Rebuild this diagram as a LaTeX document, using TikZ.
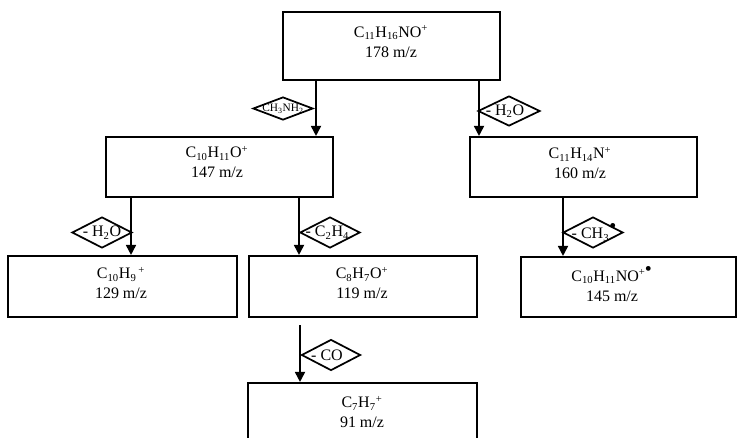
\documentclass[tikz,border=0pt]{standalone}
\usepackage{fontspec}
\setmainfont{Liberation Serif}
\usetikzlibrary{arrows.meta,shapes.geometric}
\newcommand{\bigdot}{{\fontsize{15}{15}\selectfont •}}
\begin{document}
\begin{tikzpicture}[x=0.75pt,y=-0.75pt,
  box/.style={draw, line width=1.6pt, rectangle, inner sep=0pt},
  lbl/.style={align=center, font=\fontsize{12}{15}\selectfont, inner sep=0pt},
  loss/.style={draw, diamond, line width=1.3pt, inner sep=0pt},
  losstxt/.style={font=\fontsize{12}{14}\selectfont, inner sep=0pt},
  smalltxt/.style={font=\fontsize{8.5}{10}\selectfont, inner sep=0pt},
  arr/.style={line width=1.3pt, -{Triangle[length=7.5pt,width=7.5pt]}}]
\useasboundingbox (0,0) rectangle (737,437);
\clip (0,0) rectangle (737,437);

% boxes
\node[box, minimum width=162.75pt, minimum height=51pt] (A) at (391.5,46) {};
\node[box, minimum width=170.25pt, minimum height=45pt] (B) at (219.5,167) {};
\node[box, minimum width=170.25pt, minimum height=45pt] (C) at (583.5,167) {};
\node[box, minimum width=171.75pt, minimum height=45.75pt] (D) at (122.5,286.5) {};
\node[box, minimum width=171pt, minimum height=45.75pt] (E) at (363,286.5) {};
\node[box, minimum width=161.25pt, minimum height=45pt] (F) at (628.5,287) {};
\node[box, minimum width=171.75pt, minimum height=48pt] (G) at (362.5,415) {};

% box texts
\node[lbl] (tA) at (391,41.5) {C\textsubscript{11}H\textsubscript{16}NO\textsuperscript{+}\\178 m/z};
\node[lbl] (tB) at (217,162) {C\textsubscript{10}H\textsubscript{11}O\textsuperscript{+}\\147 m/z};
\node[lbl] (tC) at (580,163) {C\textsubscript{11}H\textsubscript{14}N\textsuperscript{+}\\160 m/z};
\node[lbl] (tD) at (121,283) {C\textsubscript{10}H\textsubscript{9}\textsuperscript{\,+}\\129 m/z};
\node[lbl] (tE) at (362,283) {C\textsubscript{8}H\textsubscript{7}O\textsuperscript{+}\\119 m/z};
\node[lbl] (tF) at (612,284) {C\textsubscript{10}H\textsubscript{11}NO\textsuperscript{+\bigdot}\\145 m/z};
\node[lbl] (tG) at (362,412) {C\textsubscript{7}H\textsubscript{7}\textsuperscript{+}\\91 m/z};

% arrows
\coordinate (s6) at (300,325);
\draw[arr] (A.south -| 316,0) -- (B.north -| 316,0);
\draw[arr] (A.south -| 479,0) -- (C.north -| 479,0);
\draw[arr] (B.south -| 131,0) -- (D.north -| 131,0);
\draw[arr] (B.south -| 299,0) -- (E.north -| 299,0);
\draw[arr] (C.south -| 563,0) -- (F.north -| 563,0);
\draw[arr] (s6) -- (G.north -| s6);

% loss diamonds
\node[loss, minimum width=45pt, minimum height=17.25pt] (d1) at (283,108.5) {};
\node[loss, minimum width=46.5pt, minimum height=22.5pt] (d2) at (509,111) {};
\node[loss, minimum width=45pt, minimum height=23.25pt] (d3) at (102,232.5) {};
\node[loss, minimum width=45pt, minimum height=23.25pt] (d4) at (330,232.5) {};
\node[loss, minimum width=45pt, minimum height=23.25pt] (d5) at (593,232.5) {};
\node[loss, minimum width=44.25pt, minimum height=23.25pt] (d6) at (331,355) {};

\node[smalltxt] (l1) at (d1) {CH\textsubscript{3}NH\textsubscript{2}};
\node[losstxt] (l2) at ([xshift=-3pt]d2.center) {- H\textsubscript{2}O};
\node[losstxt] (l3) at (d3) {- H\textsubscript{2}O};
\node[losstxt] (l4) at ([xshift=-2pt]d4.center) {- C\textsubscript{2}H\textsubscript{4}};
\node[losstxt] (l5) at ([xshift=1pt]d5.center) {- CH\textsubscript{3}\textsuperscript{\bigdot}};
\node[losstxt] (l6) at ([xshift=-3pt]d6.center) {- CO};
\end{tikzpicture}
\end{document}
